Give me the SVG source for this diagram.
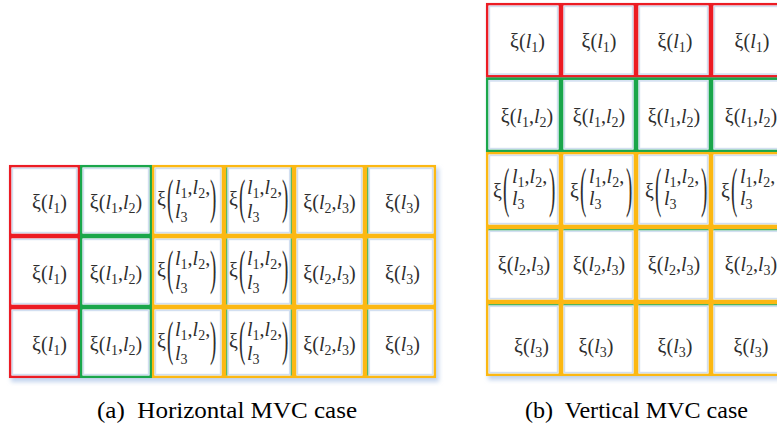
<svg xmlns="http://www.w3.org/2000/svg" width="777" height="430" viewBox="0 0 777 430">
<defs>
<style>
.t{font-family:"Liberation Serif","DejaVu Serif",serif;font-size:20px;fill:#2e2e2e}
.m{text-anchor:middle}
.i{font-style:italic}
.s{font-size:14px}
.p{font-family:"Liberation Serif","DejaVu Serif",serif;font-size:19px;fill:#2e2e2e}
.cap{font-family:"Liberation Serif","Times New Roman",serif;font-size:24px;fill:#000;text-anchor:middle}
.r{fill:#fff;stroke:#ec1c24;stroke-width:2.5}
.g{fill:#fff;stroke:#1aa64b;stroke-width:2.5}
.y{fill:#fff;stroke:#fcb813;stroke-width:2.5}
.gl{fill:none;stroke:#d2dff1;stroke-width:1.6}
.gt{stroke:#1aa64b;stroke-width:1.2}
</style>
<filter id="blur" x="-5%" y="-5%" width="110%" height="110%"><feGaussianBlur stdDeviation="2"/></filter>
</defs>
<rect width="777" height="430" fill="#fff"/>
<rect x="11" y="168" width="428" height="214" fill="#c3d4ee" filter="url(#blur)"/>
<rect x="488" y="6" width="300" height="374" fill="#c3d4ee" filter="url(#blur)"/>

<g id="horizontal">
<!-- row 1 -->
<g id="h-r1c1" transform="translate(9,165)"><rect class="r" x="1.2" y="1.2" width="68.6" height="68.6"/><rect class="gl" x="3.4" y="3.4" width="64.2" height="64.2"/>
<text class="t m" x="40.5" y="44">ξ(<tspan class="i">l</tspan><tspan class="s" dy="4">1</tspan><tspan dy="-4">)</tspan></text></g>
<g id="h-r1c2" transform="translate(80,165)"><rect class="g" x="1.2" y="1.2" width="69.6" height="68.6"/><rect class="gl" x="3.4" y="3.4" width="65.2" height="64.2"/>
<text class="t m" x="36" y="44">ξ(<tspan class="i">l</tspan><tspan class="s" dy="4">1</tspan><tspan dy="-4">,</tspan><tspan class="i">l</tspan><tspan class="s" dy="4">2</tspan><tspan dy="-4">)</tspan></text></g>
<g id="h-r1c3" transform="translate(152,165)"><rect class="y" x="1.2" y="1.2" width="69.6" height="68.6"/><rect class="gl" x="3.4" y="3.4" width="65.2" height="64.2"/>
<text class="t" x="5" y="41">ξ</text><text class="p" transform="translate(15,47.5) scale(1,2.6)">(</text>
<text class="t" x="23" y="29"><tspan class="i">l</tspan><tspan class="s" dy="4">1</tspan><tspan dy="-4">,</tspan><tspan class="i">l</tspan><tspan class="s" dy="4">2</tspan><tspan dy="-4">,</tspan></text>
<text class="t" x="23" y="53"><tspan class="i">l</tspan><tspan class="s" dy="4">3</tspan></text><text class="p" transform="translate(58,47.5) scale(1,2.6)">)</text></g>
<g id="h-r1c4" transform="translate(224,165)"><rect class="y" x="1.2" y="1.2" width="67.6" height="68.6"/><line class="gt" x1="2.9" y1="2.5" x2="2.9" y2="68.5"/><line class="gt" x1="67.1" y1="2.5" x2="67.1" y2="68.5"/><rect class="gl" x="4.3" y="3.4" width="61.4" height="64.2"/>
<text class="t" x="5" y="41">ξ</text><text class="p" transform="translate(15,47.5) scale(1,2.6)">(</text>
<text class="t" x="23" y="29"><tspan class="i">l</tspan><tspan class="s" dy="4">1</tspan><tspan dy="-4">,</tspan><tspan class="i">l</tspan><tspan class="s" dy="4">2</tspan><tspan dy="-4">,</tspan></text>
<text class="t" x="23" y="53"><tspan class="i">l</tspan><tspan class="s" dy="4">3</tspan></text><text class="p" transform="translate(58,47.5) scale(1,2.6)">)</text></g>
<g id="h-r1c5" transform="translate(294,165)"><rect class="y" x="1.2" y="1.2" width="68.6" height="68.6"/><rect class="gl" x="3.4" y="3.4" width="64.2" height="64.2"/>
<text class="t m" x="35.5" y="44">ξ(<tspan class="i">l</tspan><tspan class="s" dy="4">2</tspan><tspan dy="-4">,</tspan><tspan class="i">l</tspan><tspan class="s" dy="4">3</tspan><tspan dy="-4">)</tspan></text></g>
<g id="h-r1c6" transform="translate(365,165)"><rect class="y" x="1.2" y="1.2" width="68.6" height="68.6"/><line class="gt" x1="2.9" y1="2.5" x2="2.9" y2="68.5"/><rect class="gl" x="4.3" y="3.4" width="63.3" height="64.2"/>
<text class="t m" x="37.5" y="44">ξ(<tspan class="i">l</tspan><tspan class="s" dy="4">3</tspan><tspan dy="-4">)</tspan></text></g>
<!-- row 2 -->
<g id="h-r2c1" transform="translate(9,236)"><rect class="r" x="1.2" y="1.2" width="68.6" height="68.6"/><rect class="gl" x="3.4" y="3.4" width="64.2" height="64.2"/>
<text class="t m" x="40.5" y="44">ξ(<tspan class="i">l</tspan><tspan class="s" dy="4">1</tspan><tspan dy="-4">)</tspan></text></g>
<g id="h-r2c2" transform="translate(80,236)"><rect class="g" x="1.2" y="1.2" width="69.6" height="68.6"/><rect class="gl" x="3.4" y="3.4" width="65.2" height="64.2"/>
<text class="t m" x="36" y="44">ξ(<tspan class="i">l</tspan><tspan class="s" dy="4">1</tspan><tspan dy="-4">,</tspan><tspan class="i">l</tspan><tspan class="s" dy="4">2</tspan><tspan dy="-4">)</tspan></text></g>
<g id="h-r2c3" transform="translate(152,236)"><rect class="y" x="1.2" y="1.2" width="69.6" height="68.6"/><rect class="gl" x="3.4" y="3.4" width="65.2" height="64.2"/>
<text class="t" x="5" y="41">ξ</text><text class="p" transform="translate(15,47.5) scale(1,2.6)">(</text>
<text class="t" x="23" y="29"><tspan class="i">l</tspan><tspan class="s" dy="4">1</tspan><tspan dy="-4">,</tspan><tspan class="i">l</tspan><tspan class="s" dy="4">2</tspan><tspan dy="-4">,</tspan></text>
<text class="t" x="23" y="53"><tspan class="i">l</tspan><tspan class="s" dy="4">3</tspan></text><text class="p" transform="translate(58,47.5) scale(1,2.6)">)</text></g>
<g id="h-r2c4" transform="translate(224,236)"><rect class="y" x="1.2" y="1.2" width="67.6" height="68.6"/><line class="gt" x1="2.9" y1="2.5" x2="2.9" y2="68.5"/><line class="gt" x1="67.1" y1="2.5" x2="67.1" y2="68.5"/><rect class="gl" x="4.3" y="3.4" width="61.4" height="64.2"/>
<text class="t" x="5" y="41">ξ</text><text class="p" transform="translate(15,47.5) scale(1,2.6)">(</text>
<text class="t" x="23" y="29"><tspan class="i">l</tspan><tspan class="s" dy="4">1</tspan><tspan dy="-4">,</tspan><tspan class="i">l</tspan><tspan class="s" dy="4">2</tspan><tspan dy="-4">,</tspan></text>
<text class="t" x="23" y="53"><tspan class="i">l</tspan><tspan class="s" dy="4">3</tspan></text><text class="p" transform="translate(58,47.5) scale(1,2.6)">)</text></g>
<g id="h-r2c5" transform="translate(294,236)"><rect class="y" x="1.2" y="1.2" width="68.6" height="68.6"/><rect class="gl" x="3.4" y="3.4" width="64.2" height="64.2"/>
<text class="t m" x="35.5" y="44">ξ(<tspan class="i">l</tspan><tspan class="s" dy="4">2</tspan><tspan dy="-4">,</tspan><tspan class="i">l</tspan><tspan class="s" dy="4">3</tspan><tspan dy="-4">)</tspan></text></g>
<g id="h-r2c6" transform="translate(365,236)"><rect class="y" x="1.2" y="1.2" width="68.6" height="68.6"/><line class="gt" x1="2.9" y1="2.5" x2="2.9" y2="68.5"/><rect class="gl" x="4.3" y="3.4" width="63.3" height="64.2"/>
<text class="t m" x="37.5" y="44">ξ(<tspan class="i">l</tspan><tspan class="s" dy="4">3</tspan><tspan dy="-4">)</tspan></text></g>
<!-- row 3 -->
<g id="h-r3c1" transform="translate(9,307)"><rect class="r" x="1.2" y="1.2" width="68.6" height="68.6"/><rect class="gl" x="3.4" y="3.4" width="64.2" height="64.2"/>
<text class="t m" x="40.5" y="44">ξ(<tspan class="i">l</tspan><tspan class="s" dy="4">1</tspan><tspan dy="-4">)</tspan></text></g>
<g id="h-r3c2" transform="translate(80,307)"><rect class="g" x="1.2" y="1.2" width="69.6" height="68.6"/><rect class="gl" x="3.4" y="3.4" width="65.2" height="64.2"/>
<text class="t m" x="36" y="44">ξ(<tspan class="i">l</tspan><tspan class="s" dy="4">1</tspan><tspan dy="-4">,</tspan><tspan class="i">l</tspan><tspan class="s" dy="4">2</tspan><tspan dy="-4">)</tspan></text></g>
<g id="h-r3c3" transform="translate(152,307)"><rect class="y" x="1.2" y="1.2" width="69.6" height="68.6"/><rect class="gl" x="3.4" y="3.4" width="65.2" height="64.2"/>
<text class="t" x="5" y="41">ξ</text><text class="p" transform="translate(15,47.5) scale(1,2.6)">(</text>
<text class="t" x="23" y="29"><tspan class="i">l</tspan><tspan class="s" dy="4">1</tspan><tspan dy="-4">,</tspan><tspan class="i">l</tspan><tspan class="s" dy="4">2</tspan><tspan dy="-4">,</tspan></text>
<text class="t" x="23" y="53"><tspan class="i">l</tspan><tspan class="s" dy="4">3</tspan></text><text class="p" transform="translate(58,47.5) scale(1,2.6)">)</text></g>
<g id="h-r3c4" transform="translate(224,307)"><rect class="y" x="1.2" y="1.2" width="67.6" height="68.6"/><line class="gt" x1="2.9" y1="2.5" x2="2.9" y2="68.5"/><line class="gt" x1="67.1" y1="2.5" x2="67.1" y2="68.5"/><rect class="gl" x="4.3" y="3.4" width="61.4" height="64.2"/>
<text class="t" x="5" y="41">ξ</text><text class="p" transform="translate(15,47.5) scale(1,2.6)">(</text>
<text class="t" x="23" y="29"><tspan class="i">l</tspan><tspan class="s" dy="4">1</tspan><tspan dy="-4">,</tspan><tspan class="i">l</tspan><tspan class="s" dy="4">2</tspan><tspan dy="-4">,</tspan></text>
<text class="t" x="23" y="53"><tspan class="i">l</tspan><tspan class="s" dy="4">3</tspan></text><text class="p" transform="translate(58,47.5) scale(1,2.6)">)</text></g>
<g id="h-r3c5" transform="translate(294,307)"><rect class="y" x="1.2" y="1.2" width="68.6" height="68.6"/><rect class="gl" x="3.4" y="3.4" width="64.2" height="64.2"/>
<text class="t m" x="35.5" y="44">ξ(<tspan class="i">l</tspan><tspan class="s" dy="4">2</tspan><tspan dy="-4">,</tspan><tspan class="i">l</tspan><tspan class="s" dy="4">3</tspan><tspan dy="-4">)</tspan></text></g>
<g id="h-r3c6" transform="translate(365,307)"><rect class="y" x="1.2" y="1.2" width="68.6" height="68.6"/><line class="gt" x1="2.9" y1="2.5" x2="2.9" y2="68.5"/><rect class="gl" x="4.3" y="3.4" width="63.3" height="64.2"/>
<text class="t m" x="37.5" y="44">ξ(<tspan class="i">l</tspan><tspan class="s" dy="4">3</tspan><tspan dy="-4">)</tspan></text></g>
</g>

<g id="vertical">
<!-- row 1 -->
<g id="v-r1c1" transform="translate(486,3)"><rect class="r" x="1.2" y="1.2" width="72.6" height="72.1"/><rect class="gl" x="3.4" y="3.4" width="68.2" height="67.7"/>
<text class="t m" x="41.5" y="45">ξ(<tspan class="i">l</tspan><tspan class="s" dy="4">1</tspan><tspan dy="-4">)</tspan></text></g>
<g id="v-r1c2" transform="translate(561,3)"><rect class="r" x="1.2" y="1.2" width="72.6" height="72.1"/><rect class="gl" x="3.4" y="3.4" width="68.2" height="67.7"/>
<text class="t m" x="38" y="45">ξ(<tspan class="i">l</tspan><tspan class="s" dy="4">1</tspan><tspan dy="-4">)</tspan></text></g>
<g id="v-r1c3" transform="translate(636,3)"><rect class="r" x="1.2" y="1.2" width="72.6" height="72.1"/><rect class="gl" x="3.4" y="3.4" width="68.2" height="67.7"/>
<text class="t m" x="39" y="45">ξ(<tspan class="i">l</tspan><tspan class="s" dy="4">1</tspan><tspan dy="-4">)</tspan></text></g>
<g id="v-r1c4" transform="translate(711,3)"><rect class="r" x="1.2" y="1.2" width="72.6" height="72.1"/><rect class="gl" x="3.4" y="3.4" width="68.2" height="67.7"/>
<text class="t m" x="41" y="45">ξ(<tspan class="i">l</tspan><tspan class="s" dy="4">1</tspan><tspan dy="-4">)</tspan></text></g>
<!-- row 2 -->
<g id="v-r2c1" transform="translate(486,77.5)"><rect class="g" x="1.2" y="1.2" width="72.6" height="72.1"/><rect class="gl" x="3.4" y="3.4" width="68.2" height="67.7"/>
<text class="t m" x="41" y="45.5">ξ(<tspan class="i">l</tspan><tspan class="s" dy="4">1</tspan><tspan dy="-4">,</tspan><tspan class="i">l</tspan><tspan class="s" dy="4">2</tspan><tspan dy="-4">)</tspan></text></g>
<g id="v-r2c2" transform="translate(561,77.5)"><rect class="g" x="1.2" y="1.2" width="72.6" height="72.1"/><rect class="gl" x="3.4" y="3.4" width="68.2" height="67.7"/>
<text class="t m" x="38" y="45.5">ξ(<tspan class="i">l</tspan><tspan class="s" dy="4">1</tspan><tspan dy="-4">,</tspan><tspan class="i">l</tspan><tspan class="s" dy="4">2</tspan><tspan dy="-4">)</tspan></text></g>
<g id="v-r2c3" transform="translate(636,77.5)"><rect class="g" x="1.2" y="1.2" width="72.6" height="72.1"/><rect class="gl" x="3.4" y="3.4" width="68.2" height="67.7"/>
<text class="t m" x="38" y="45.5">ξ(<tspan class="i">l</tspan><tspan class="s" dy="4">1</tspan><tspan dy="-4">,</tspan><tspan class="i">l</tspan><tspan class="s" dy="4">2</tspan><tspan dy="-4">)</tspan></text></g>
<g id="v-r2c4" transform="translate(711,77.5)"><rect class="g" x="1.2" y="1.2" width="72.6" height="72.1"/><rect class="gl" x="3.4" y="3.4" width="68.2" height="67.7"/>
<text class="t m" x="40" y="45.5">ξ(<tspan class="i">l</tspan><tspan class="s" dy="4">1</tspan><tspan dy="-4">,</tspan><tspan class="i">l</tspan><tspan class="s" dy="4">2</tspan><tspan dy="-4">)</tspan></text></g>
<!-- row 3 -->
<g id="v-r3c1" transform="translate(486,152)"><rect class="y" x="1.2" y="1.2" width="72.6" height="72.6"/><rect class="gl" x="3.4" y="3.4" width="68.2" height="68.2"/>
<text class="t" x="7" y="46">ξ</text><text class="p" transform="translate(17,53.5) scale(1,2.85)">(</text>
<text class="t" x="26" y="31"><tspan class="i">l</tspan><tspan class="s" dy="4">1</tspan><tspan dy="-4">,</tspan><tspan class="i">l</tspan><tspan class="s" dy="4">2</tspan><tspan dy="-4">,</tspan></text>
<text class="t" x="26" y="53"><tspan class="i">l</tspan><tspan class="s" dy="4">3</tspan></text><text class="p" transform="translate(63,53.5) scale(1,2.85)">)</text></g>
<g id="v-r3c2" transform="translate(561,152)"><rect class="y" x="1.2" y="1.2" width="72.6" height="72.6"/><rect class="gl" x="3.4" y="3.4" width="68.2" height="68.2"/>
<text class="t" x="9" y="46">ξ</text><text class="p" transform="translate(19,53.5) scale(1,2.85)">(</text>
<text class="t" x="28" y="31"><tspan class="i">l</tspan><tspan class="s" dy="4">1</tspan><tspan dy="-4">,</tspan><tspan class="i">l</tspan><tspan class="s" dy="4">2</tspan><tspan dy="-4">,</tspan></text>
<text class="t" x="28" y="53"><tspan class="i">l</tspan><tspan class="s" dy="4">3</tspan></text><text class="p" transform="translate(65,53.5) scale(1,2.85)">)</text></g>
<g id="v-r3c3" transform="translate(636,152)"><rect class="y" x="1.2" y="1.2" width="72.6" height="72.6"/><rect class="gl" x="3.4" y="3.4" width="68.2" height="68.2"/>
<text class="t" x="9" y="46">ξ</text><text class="p" transform="translate(19,53.5) scale(1,2.85)">(</text>
<text class="t" x="28" y="31"><tspan class="i">l</tspan><tspan class="s" dy="4">1</tspan><tspan dy="-4">,</tspan><tspan class="i">l</tspan><tspan class="s" dy="4">2</tspan><tspan dy="-4">,</tspan></text>
<text class="t" x="28" y="53"><tspan class="i">l</tspan><tspan class="s" dy="4">3</tspan></text><text class="p" transform="translate(65,53.5) scale(1,2.85)">)</text></g>
<g id="v-r3c4" transform="translate(711,152)"><rect class="y" x="1.2" y="1.2" width="72.6" height="72.6"/><rect class="gl" x="3.4" y="3.4" width="68.2" height="68.2"/>
<text class="t" x="10" y="46">ξ</text><text class="p" transform="translate(20,53.5) scale(1,2.85)">(</text>
<text class="t" x="29" y="31"><tspan class="i">l</tspan><tspan class="s" dy="4">1</tspan><tspan dy="-4">,</tspan><tspan class="i">l</tspan><tspan class="s" dy="4">2</tspan><tspan dy="-4">,</tspan></text>
<text class="t" x="29" y="53"><tspan class="i">l</tspan><tspan class="s" dy="4">3</tspan></text><text class="p" transform="translate(66,53.5) scale(1,2.85)">)</text></g>
<!-- row 4 -->
<g id="v-r4c1" transform="translate(486,227)"><rect class="y" x="1.2" y="1.2" width="72.6" height="72.6"/><line class="gt" x1="2.5" y1="2.9" x2="72.5" y2="2.9"/><rect class="gl" x="3.4" y="4.3" width="68.2" height="67.3"/>
<text class="t m" x="38" y="44">ξ(<tspan class="i">l</tspan><tspan class="s" dy="4">2</tspan><tspan dy="-4">,</tspan><tspan class="i">l</tspan><tspan class="s" dy="4">3</tspan><tspan dy="-4">)</tspan></text></g>
<g id="v-r4c2" transform="translate(561,227)"><rect class="y" x="1.2" y="1.2" width="72.6" height="72.6"/><line class="gt" x1="2.5" y1="2.9" x2="72.5" y2="2.9"/><rect class="gl" x="3.4" y="4.3" width="68.2" height="67.3"/>
<text class="t m" x="38" y="44">ξ(<tspan class="i">l</tspan><tspan class="s" dy="4">2</tspan><tspan dy="-4">,</tspan><tspan class="i">l</tspan><tspan class="s" dy="4">3</tspan><tspan dy="-4">)</tspan></text></g>
<g id="v-r4c3" transform="translate(636,227)"><rect class="y" x="1.2" y="1.2" width="72.6" height="72.6"/><line class="gt" x1="2.5" y1="2.9" x2="72.5" y2="2.9"/><rect class="gl" x="3.4" y="4.3" width="68.2" height="67.3"/>
<text class="t m" x="38" y="44">ξ(<tspan class="i">l</tspan><tspan class="s" dy="4">2</tspan><tspan dy="-4">,</tspan><tspan class="i">l</tspan><tspan class="s" dy="4">3</tspan><tspan dy="-4">)</tspan></text></g>
<g id="v-r4c4" transform="translate(711,227)"><rect class="y" x="1.2" y="1.2" width="72.6" height="72.6"/><line class="gt" x1="2.5" y1="2.9" x2="72.5" y2="2.9"/><rect class="gl" x="3.4" y="4.3" width="68.2" height="67.3"/>
<text class="t m" x="40" y="44">ξ(<tspan class="i">l</tspan><tspan class="s" dy="4">2</tspan><tspan dy="-4">,</tspan><tspan class="i">l</tspan><tspan class="s" dy="4">3</tspan><tspan dy="-4">)</tspan></text></g>
<!-- row 5 -->
<g id="v-r5c1" transform="translate(486,302)"><rect class="y" x="1.2" y="1.2" width="72.6" height="71.6"/><line class="gt" x1="2.5" y1="2.9" x2="72.5" y2="2.9"/><rect class="gl" x="3.4" y="4.3" width="68.2" height="66.3"/>
<text class="t m" x="45.5" y="51">ξ(<tspan class="i">l</tspan><tspan class="s" dy="4">3</tspan><tspan dy="-4">)</tspan></text></g>
<g id="v-r5c2" transform="translate(561,302)"><rect class="y" x="1.2" y="1.2" width="72.6" height="71.6"/><line class="gt" x1="2.5" y1="2.9" x2="72.5" y2="2.9"/><rect class="gl" x="3.4" y="4.3" width="68.2" height="66.3"/>
<text class="t m" x="35" y="51">ξ(<tspan class="i">l</tspan><tspan class="s" dy="4">3</tspan><tspan dy="-4">)</tspan></text></g>
<g id="v-r5c3" transform="translate(636,302)"><rect class="y" x="1.2" y="1.2" width="72.6" height="71.6"/><line class="gt" x1="2.5" y1="2.9" x2="72.5" y2="2.9"/><rect class="gl" x="3.4" y="4.3" width="68.2" height="66.3"/>
<text class="t m" x="39" y="51">ξ(<tspan class="i">l</tspan><tspan class="s" dy="4">3</tspan><tspan dy="-4">)</tspan></text></g>
<g id="v-r5c4" transform="translate(711,302)"><rect class="y" x="1.2" y="1.2" width="72.6" height="71.6"/><line class="gt" x1="2.5" y1="2.9" x2="72.5" y2="2.9"/><rect class="gl" x="3.4" y="4.3" width="68.2" height="66.3"/>
<text class="t m" x="40" y="51">ξ(<tspan class="i">l</tspan><tspan class="s" dy="4">3</tspan><tspan dy="-4">)</tspan></text></g>
</g>

<g id="captions">
<text class="cap" x="227" y="418" textLength="260" lengthAdjust="spacingAndGlyphs" xml:space="preserve">(a)  Horizontal MVC case</text>
<text class="cap" x="636.5" y="418" textLength="223" lengthAdjust="spacingAndGlyphs" xml:space="preserve">(b)  Vertical MVC case</text>
</g>
</svg>
